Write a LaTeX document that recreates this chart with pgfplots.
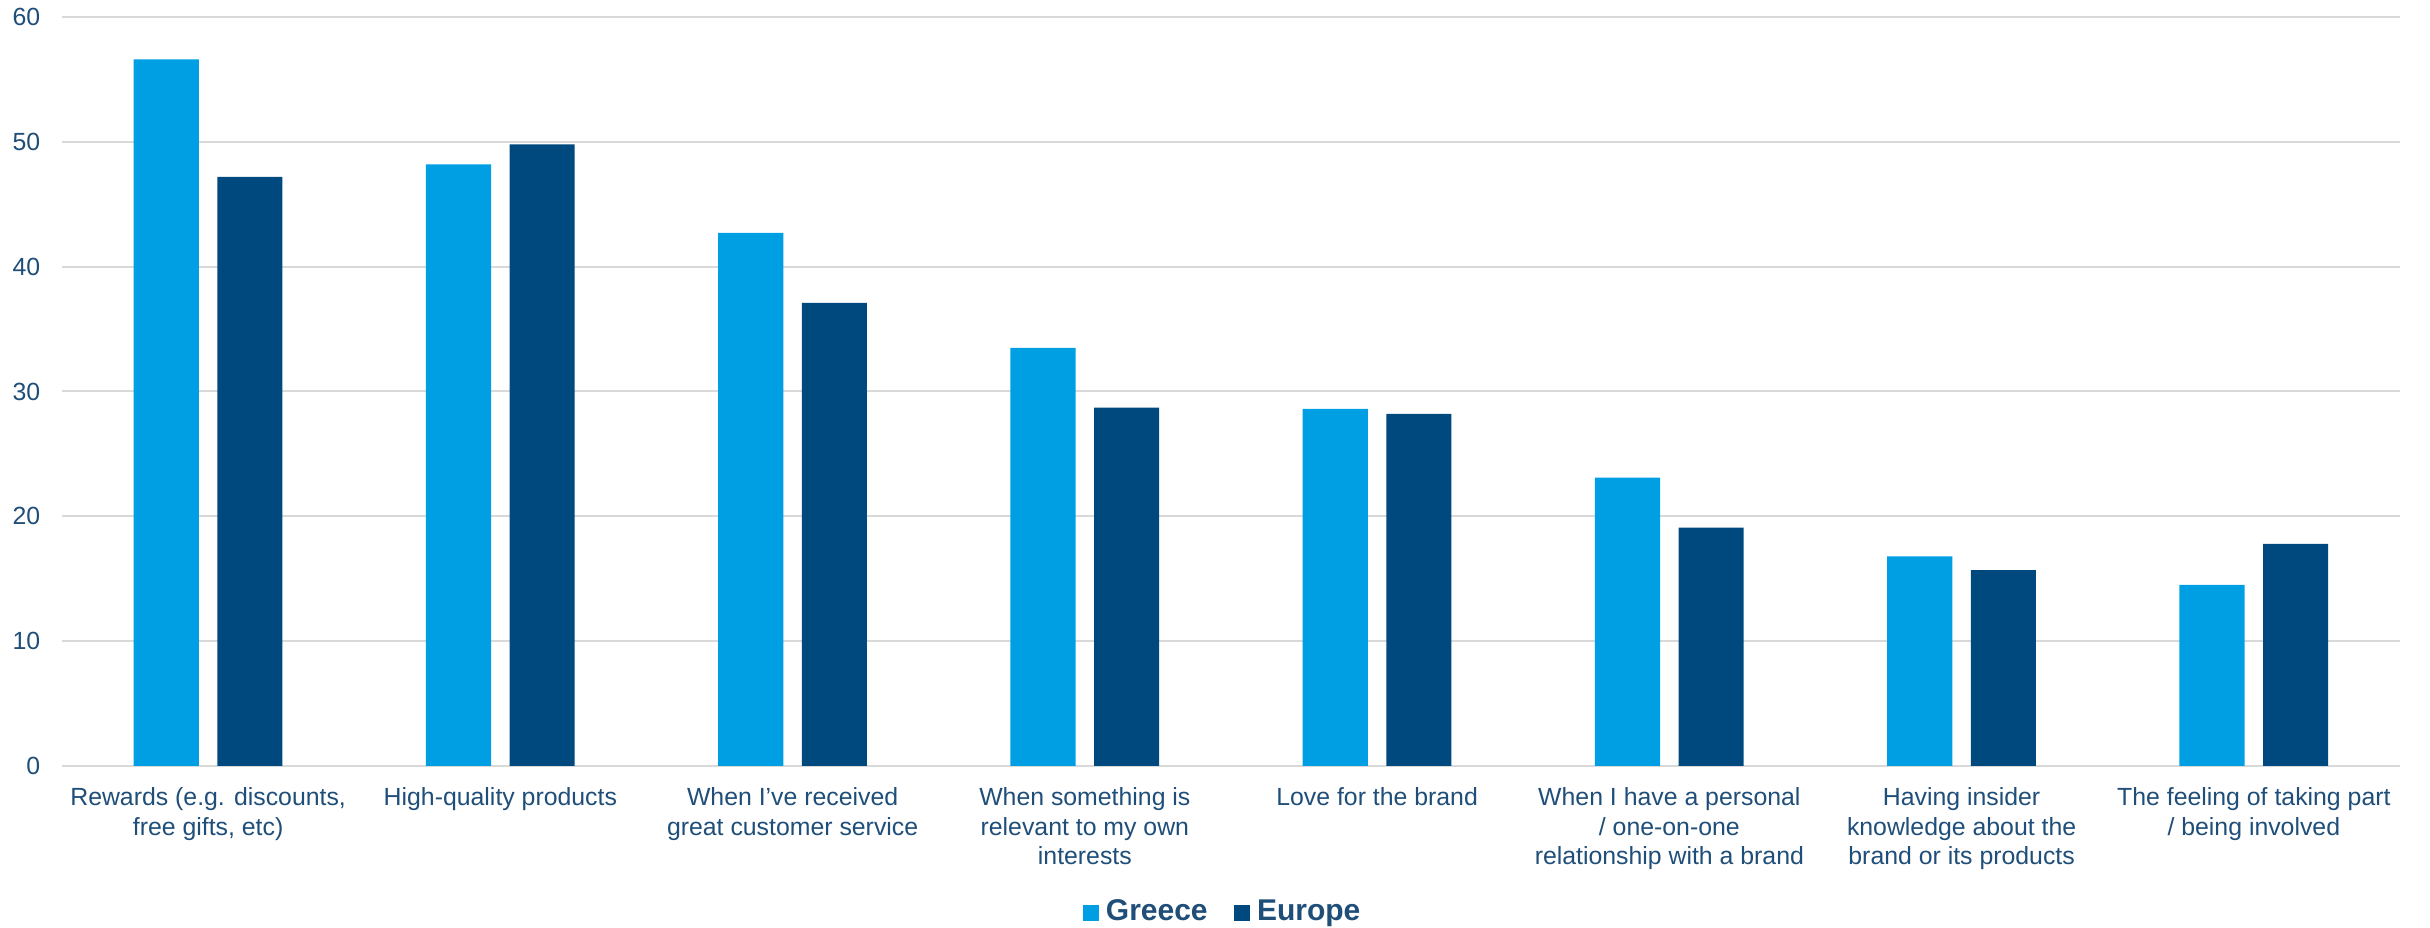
\documentclass[border=0pt]{standalone}
\usepackage{pgfplots}
\pgfplotsset{compat=1.18}
\usepackage{fontspec}
\setmainfont{Liberation Sans}
\definecolor{greece}{HTML}{009FE3}
\definecolor{europe}{HTML}{00497E}
\definecolor{txt}{HTML}{1F4E79}
\definecolor{gridc}{HTML}{D9D9D9}
\begin{document}
\begin{tikzpicture}
\begin{axis}[
  scale only axis, width=701.4pt, height=224.7pt,
  xmin=-0.5, xmax=7.5, ymin=0, ymax=60,
  ytick={0,10,...,60},
  xtick={0,...,7},
  xticklabels={{Rewards (e.g. discounts,\\free gifts, etc)},
    {High-quality products},
    {When I've received\\great customer service},
    {When something is\\relevant to my own\\interests},
    {Love for the brand},
    {When I have a personal\\/ one-on-one\\relationship with a brand},
    {Having insider\\knowledge about the\\brand or its products},
    {The feeling of taking part\\/ being involved}},
  axis line style={draw=none},
  tick style={draw=none},
  ymajorgrids,
  major grid style={draw=gridc, line width=0.6pt},
  /pgf/number format/assume math mode=true,
  xticklabel style={align=center, font=\fontsize{7.45}{8.85}\selectfont, text=txt, yshift=-3pt},
  yticklabel style={font=\fontsize{7.45}{8.85}\selectfont, text=txt, xshift=-3pt},
  legend style={at={(0.4975,-0.196)}, anchor=center, draw=none, legend columns=2,
    font=\bfseries\fontsize{9}{10}\selectfont, text=txt,
    /tikz/every even column/.append style={column sep=6pt}},
  legend image code/.code={\fill (0pt,-2.4pt) rectangle (4.8pt,2.4pt);},
]
\addplot[ybar, fill=greece, draw=none, bar width=0.223, bar shift=-0.143] coordinates {
  (0,56.6) (1,48.2) (2,42.7) (3,33.5) (4,28.6) (5,23.1) (6,16.8) (7,14.5)};
\addplot[ybar, fill=europe, draw=none, bar width=0.223, bar shift=0.143] coordinates {
  (0,47.2) (1,49.8) (2,37.1) (3,28.7) (4,28.2) (5,19.1) (6,15.7) (7,17.8)};
\legend{Greece, Europe}
\end{axis}
\pgfresetboundingbox
\path[use as bounding box] ([xshift=-18.6pt,yshift=-48.6pt]current axis.south west) rectangle ++(729pt,278.4pt);
\end{tikzpicture}
\end{document}
